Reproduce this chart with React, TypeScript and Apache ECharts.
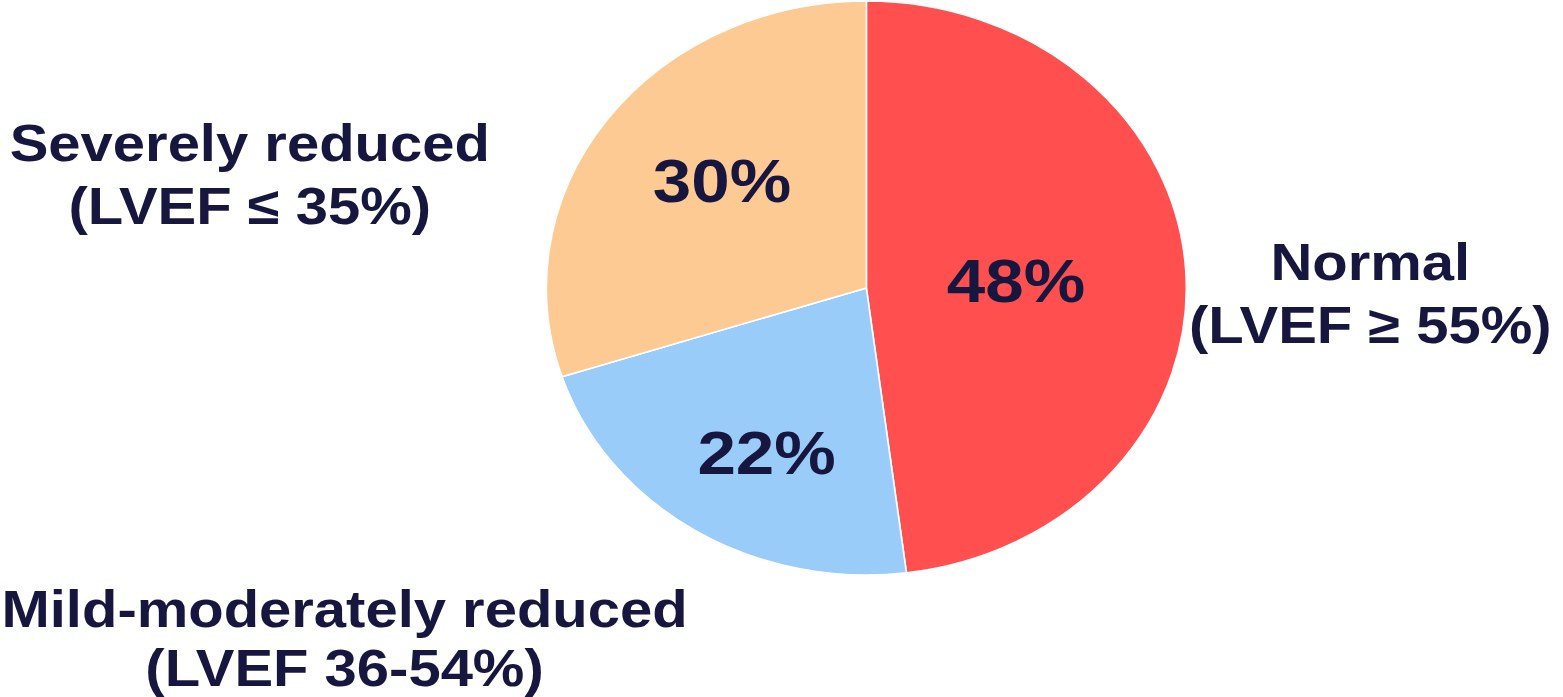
import React, { useEffect, useRef } from "react";
import * as echarts from "echarts";

const categories = ["Normal", "Mild-moderately reduced", "Severely reduced"];
const subLabels = ["(LVEF ≥ 55%)", "(LVEF 36-54%)", "(LVEF ≤ 35%)"];
const values = [48, 22, 30];
const colors = ["#FF4F4F", "#9ACCFA", "#FECA94"];

const TEXT = "#16163F";
const FONT = "'Liberation Sans', Arial, sans-serif";
const STRETCH = 1.115;
const BASE_W = 1402;
const H = 697;

// label offsets of the percentage labels relative to the default inner position
const pctOffsets: [number, number][] = [
  [-12, 2],
  [-11, 41],
  [-11, -21],
];
// outer category label anchor (center x, first line center y, line height)
const outerPos: [number, number, number][] = [
  [1229, 262, 63],
  [309, 609, 59],
  [224, 143, 63],
];

export default function App() {
  const ref = useRef<HTMLDivElement>(null);
  useEffect(() => {
    if (!ref.current) return;
    const chart = echarts.init(ref.current, null, { renderer: "svg" });
    const graphics: any[] = [];
    categories.forEach((c, i) => {
      const [x, y, lh] = outerPos[i];
      graphics.push({
        type: "text",
        x,
        y: y - lh / 2,
        style: {
          text: c + "\n" + subLabels[i],
          fill: TEXT,
          font: `bold 52px ${FONT}`,
          align: "center",
          verticalAlign: "top",
          lineHeight: lh,
        },
      });
    });
    chart.setOption({
      animation: false,
      backgroundColor: "#ffffff",
      graphic: graphics,
      series: [
        {
          type: "pie",
          center: [777, 288],
          radius: [0, 287],
          startAngle: 90,
          clockwise: true,
          silent: true,
          itemStyle: { borderColor: "#ffffff", borderWidth: 1.5 },
          labelLine: { show: false },
          data: categories.map((c, i) => ({
            name: c,
            value: values[i],
            itemStyle: { color: colors[i] },
            label: {
              show: true,
              position: "inner",
              formatter: `${values[i]}%`,
              color: TEXT,
              fontSize: 62,
              fontWeight: "bold",
              fontFamily: FONT,
              offset: pctOffsets[i],
            },
          })),
        },
      ],
    });
    return () => chart.dispose();
  }, []);
  return (
    <div
      style={{
        position: "absolute",
        left: 0,
        top: 0,
        width: BASE_W,
        height: H,
        transform: `scaleX(${STRETCH})`,
        transformOrigin: "0 0",
        background: "#fff",
      }}
    >
      <div ref={ref} style={{ width: BASE_W, height: H }} />
    </div>
  );
}
